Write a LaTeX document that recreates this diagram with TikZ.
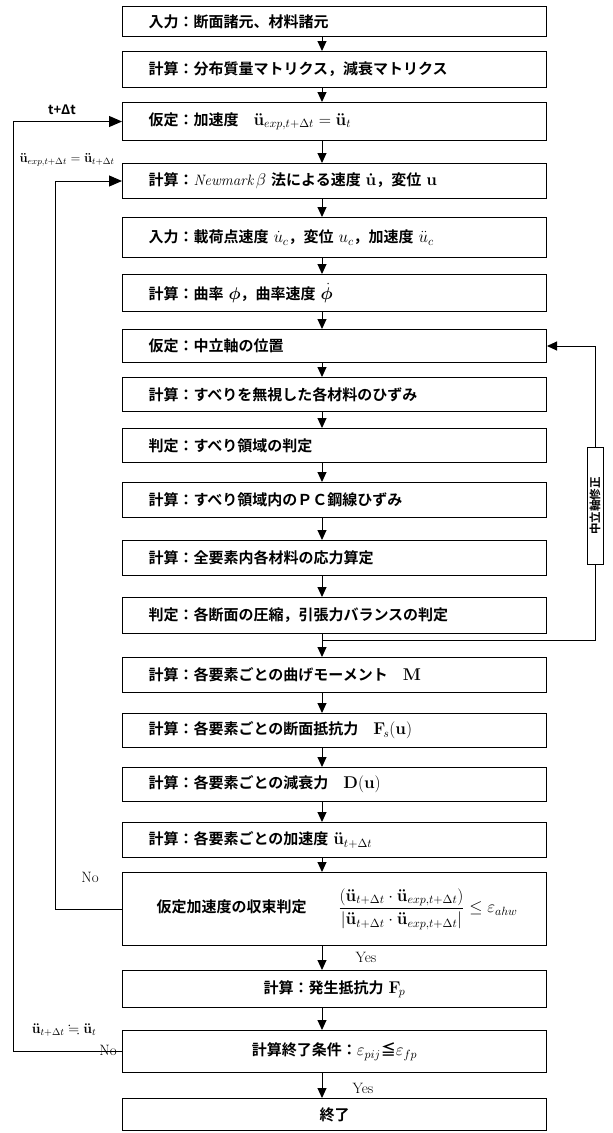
\RequirePackage{fix-cm}
\documentclass[tikz,border=0pt]{standalone}
\usepackage{amsmath,amssymb,bm}
\usepackage[no-math]{fontspec}
\newfontfamily\jp{Noto Sans CJK JP}[BoldFont={Noto Sans CJK JP Bold}]
\usetikzlibrary{arrows.meta}
\newcommand{\ua}{\mathbf{\ddot{u}}}
\newcommand{\uv}{\mathbf{\dot{u}}}
\newcommand{\mth}[1]{{\fontsize{17}{19}\selectfont$#1$}}
\tikzset{
  box/.style={draw, line width=1pt, minimum width=424pt, text width=372pt,
    inner xsep=26pt, inner ysep=0pt, align=left, anchor=north west,
    font=\jp\bfseries\fontsize{15}{18}\selectfont},
  cbox/.style={box, align=center},
  arr/.style={line width=1pt, -{Triangle[length=10pt,width=9pt]}},
  bigarr/.style={line width=1pt, -{Triangle[length=13pt,width=11pt]}},
  lbl/.style={inner sep=1pt, font=\fontsize{15}{17}\selectfont},
  sidebox/.style={draw, line width=0.9pt, minimum width=117pt, minimum height=16pt,
    inner sep=1pt, font=\jp\bfseries\fontsize{11.5}{12}\selectfont}
}
\begin{document}
\begin{tikzpicture}[x=1pt,y=-1pt]
\useasboundingbox (0,0) rectangle (613,1133);
\coordinate (ax) at (322,0);
\coordinate (inx) at (55,0);
\coordinate (outx) at (13,0);

\node[box, minimum height=30pt] (b1) at (122,6) {入力：断面諸元、材料諸元};
\node[box, minimum height=36pt] (b2) at (122,51) {計算：分布質量マトリクス，減衰マトリクス};
\node[box, minimum height=38pt] (b3) at (122,102) {仮定：加速度\quad\mth{\ua_{exp,t+\Delta t}=\ua_t}};
\node[box, minimum height=35pt] (b4) at (122,163) {計算：{\fontspec{Latin Modern Roman}\itshape\mdseries Newmark}\,\mth{\beta} 法による速度 \mth{\uv}，変位 \mth{\mathbf{u}}};
\node[box, minimum height=40pt] (b5) at (122,217) {入力：載荷点速度 \mth{\dot{u}_c}，変位 \mth{u_c}，加速度 \mth{\ddot{u}_c}};
\node[box, minimum height=37pt] (b6) at (122,274) {計算：曲率 \mth{\bm{\phi}}，曲率速度 \mth{\dot{\bm{\phi}}}};
\node[box, minimum height=33pt] (b7) at (122,329) {仮定：中立軸の位置};
\node[box, minimum height=34pt] (b8) at (122,377) {計算：すべりを無視した各材料のひずみ};
\node[box, minimum height=34pt] (b9) at (122,428) {判定：すべり領域の判定};
\node[box, minimum height=35pt] (b10) at (122,482) {計算：すべり領域内のＰＣ鋼線ひずみ};
\node[box, minimum height=35pt] (b11) at (122,540) {計算：全要素内各材料の応力算定};
\node[box, minimum height=36pt] (b12) at (122,597) {判定：各断面の圧縮，引張力バランスの判定};
\node[box, minimum height=35pt] (b13) at (122,657) {計算：各要素ごとの曲げモーメント\quad\mth{\mathbf{M}}};
\node[box, minimum height=34pt] (b14) at (122,713) {計算：各要素ごとの断面抵抗力\quad\mth{\mathbf{F}_{\!s}\mathbf{(u)}}};
\node[box, minimum height=34pt] (b15) at (122,767) {計算：各要素ごとの減衰力\quad\mth{\mathbf{D(u)}}};
\node[box, minimum height=35pt] (b16) at (122,822) {計算：各要素ごとの加速度 \mth{\ua_{t+\Delta t}}};
\node[box, minimum height=73pt] (b17) at (122,872) {\mbox{\hspace*{8pt}仮定加速度の収束判定\hspace{32pt}\mth{\dfrac{(\ua_{t+\Delta t}\cdot\ua_{exp,t+\Delta t})}{\left|\ua_{t+\Delta t}\cdot\ua_{exp,t+\Delta t}\right|}\le\varepsilon_{ahw}}}};
\node[cbox, minimum height=37pt] (b18) at (122,970) {計算：発生抵抗力 \mth{\mathbf{F}_{\!p}}};
\node[cbox, minimum height=42pt] (b19) at (122,1030) {計算終了条件：\mth{\varepsilon_{pij}}≦\mth{\varepsilon_{fp}}};
\node[cbox, minimum height=32pt] (b20) at (122,1098) {終了};

\node[sidebox, rotate=90] (side) at (595,506) {中立軸修正};

\foreach \a/\b in {b1/b2,b2/b3,b3/b4,b4/b5,b5/b6,b6/b7,b7/b8,b8/b9,b9/b10,b10/b11,b11/b12,b12/b13,b13/b14,b14/b15,b15/b16,b16/b17,b17/b18,b18/b19,b19/b20}
  \draw[arr] (\a.south -| ax) -- (\b.north -| ax);

% neutral axis correction loop
\coordinate (j1) at (322,640);
\draw[line width=0.9pt] (j1) -| (side);
\draw[arr] (side) |- (b7.east);

% inner loop (convergence No)
\draw[bigarr] (b17.west) -- (b17.west -| inx) |- (b4.west);
% outer loop (end condition No)
\draw[bigarr] (b19.west) -- (b19.west -| outx) |- (b3.west);

\node[lbl, font=\jp\bfseries\fontsize{13}{14}\selectfont] (lt) at (62,110) {t+Δt};
\node[lbl, font=\fontsize{13}{15}\selectfont] (le) at (67,160) {$\ua_{exp,t+\Delta t}=\ua_{t+\Delta t}$};
\node[lbl] (ln1) at (90,877) {No};
\node[lbl, font=\fontsize{14}{15}\selectfont] (lap) at (64,1030) {$\ua_{t+\Delta t}\fallingdotseq\ua_t$};
\node[lbl] (ln2) at (108,1050) {No};
\node[lbl] (ly1) at (366,957) {Yes};
\node[lbl] (ly2) at (363,1088) {Yes};
\end{tikzpicture}
\end{document}
